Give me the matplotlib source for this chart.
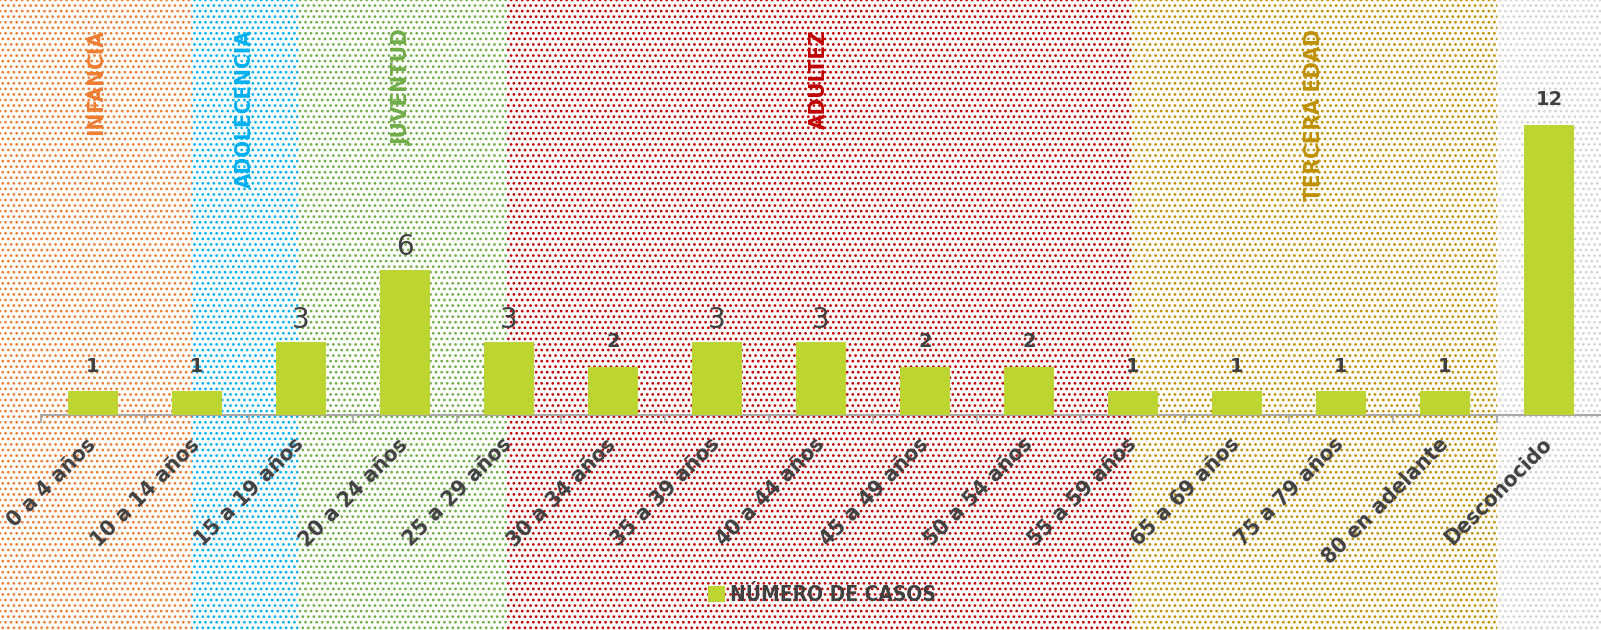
# ==========================
# Import Libraries
# ==========================

import matplotlib
matplotlib.use("Agg")
import matplotlib.pyplot as plt
from matplotlib import font_manager
from matplotlib.font_manager import FontProperties

# ==========================
# Data
# ==========================

age_groups = ["0 a 4 años", "10 a 14 años", "15 a 19 años", "20 a 24 años",
              "25 a 29 años", "30 a 34 años", "35 a 39 años", "40 a 44 años",
              "45 a 49 años", "50 a 54 años", "55 a 59 años", "65 a 69 años",
              "75 a 79 años", "80 en adelante", "Desconocido"]
cases = [1, 1, 3, 6, 3, 2, 3, 3, 2, 2, 1, 1, 1, 1, 12]

stage_names = ["INFANCIA", "ADOLECENCIA", "JUVENTUD", "ADULTEZ", "TERCERA EDAD", ""]
stage_edges = [0.95, 1.97, 3.98, 9.98, 13.5]   # x positions where a stage ends
stage_colors = ["#ED7D31", "#00B0F0", "#70AD47", "#C00000", "#BF9000", "#D4D4D4"]

legend_label = "NÚMERO DE CASOS"

# ==========================
# Fonts (look for a narrow / condensed face)
# ==========================

narrow_file = None
for f in font_manager.fontManager.ttflist:
    is_narrow = ("Narrow" in f.name or "Condensed" in f.name
                 or str(f.stretch) in ("condensed", "semi-condensed", "extra-condensed"))
    if is_narrow and f.fname.lower().endswith((".ttf", ".otf")):
        bold = str(f.weight) in ("bold", "700", "600") or f.weight in (600, 700)
        if narrow_file is None or bold:
            narrow_file = f.fname
        if bold:
            break

if narrow_file:
    def nfont(size):
        return FontProperties(fname=narrow_file, size=size)
    scale = 1.0
else:
    def nfont(size):
        return FontProperties(family="DejaVu Sans", weight="bold", size=size)
    scale = 0.8

plt.rcParams["hatch.linewidth"] = 1.15

W, H, DPI = 1601, 630, 100
fig = plt.figure(figsize=(W / DPI, H / DPI), dpi=DPI)

# main axes placement in pixels
ax_left_px = 41
axis_y_px = 415
px_per_cat = (W - ax_left_px) / len(age_groups)
px_per_unit = 24.2

# ==========================
# Background stripes
# ==========================

bg = fig.add_axes([0, 0, 1, 1])
x_min = -0.5 - ax_left_px / px_per_cat
x_max = len(age_groups) - 0.5
bg.set_xlim(x_min, x_max)
bg.set_ylim(0, 1)
bg.axis("off")

lefts = [x_min] + stage_edges
rights = stage_edges + [x_max]
for name, color, x0, x1 in zip(stage_names, stage_colors, lefts, rights):
    bg.axvspan(x0, x1, facecolor="white", edgecolor=color, hatch="...", linewidth=0)
    if name:
        bg.text((x0 + x1) / 2, 1 - 29 / H, name, rotation=90, ha="center", va="top",
                color=color, fontproperties=nfont(16 * scale))

# ==========================
# Bar chart
# ==========================

ax = fig.add_axes([ax_left_px / W, 1 - axis_y_px / H, 1 - ax_left_px / W, axis_y_px / H])
ax.set_facecolor("none")
ax.set_xlim(-0.5, len(age_groups) - 0.5)
ax.set_ylim(0, axis_y_px / px_per_unit)

x = list(range(len(age_groups)))
bars = ax.bar(x, cases, width=0.49, color="#BDD531", label=legend_label, zorder=3)

big_labels = [2, 3, 4, 6, 7]
for i, v in enumerate(cases):
    if i in big_labels:
        ax.annotate(str(v), (i, v), xytext=(0, 6), textcoords="offset points",
                    ha="center", va="bottom", fontsize=20, color="#404040")
    else:
        ax.annotate(str(v), (i, v), xytext=(0, 11), textcoords="offset points",
                    ha="center", va="bottom", fontsize=14, color="#404040",
                    fontweight="bold")

for s in ["left", "right", "top"]:
    ax.spines[s].set_visible(False)
ax.spines["bottom"].set_color("#A6A6A6")
ax.spines["bottom"].set_linewidth(1.5)
ax.set_yticks([])

ax.set_xticks(x)
ax.set_xticklabels(age_groups, rotation=45, ha="right", va="center",
                   rotation_mode="anchor", fontproperties=nfont(16 * scale),
                   color="#404040")
ax.tick_params(axis="x", which="major", length=0, pad=19)
ax.set_xticks([k - 0.5 for k in range(len(age_groups))], minor=True)
ax.tick_params(axis="x", which="minor", length=6, width=1.2, color="#A6A6A6")

# ==========================
# Legend
# ==========================

fig.legend(handles=[bars], labels=[legend_label], loc="center",
           bbox_to_anchor=(822 / W, 1 - 595 / H), frameon=False,
           handlelength=0.8, handleheight=0.8, handletextpad=0.25,
           prop=nfont(15 * scale), labelcolor="#404040")

plt.savefig("out.png", dpi=DPI)
